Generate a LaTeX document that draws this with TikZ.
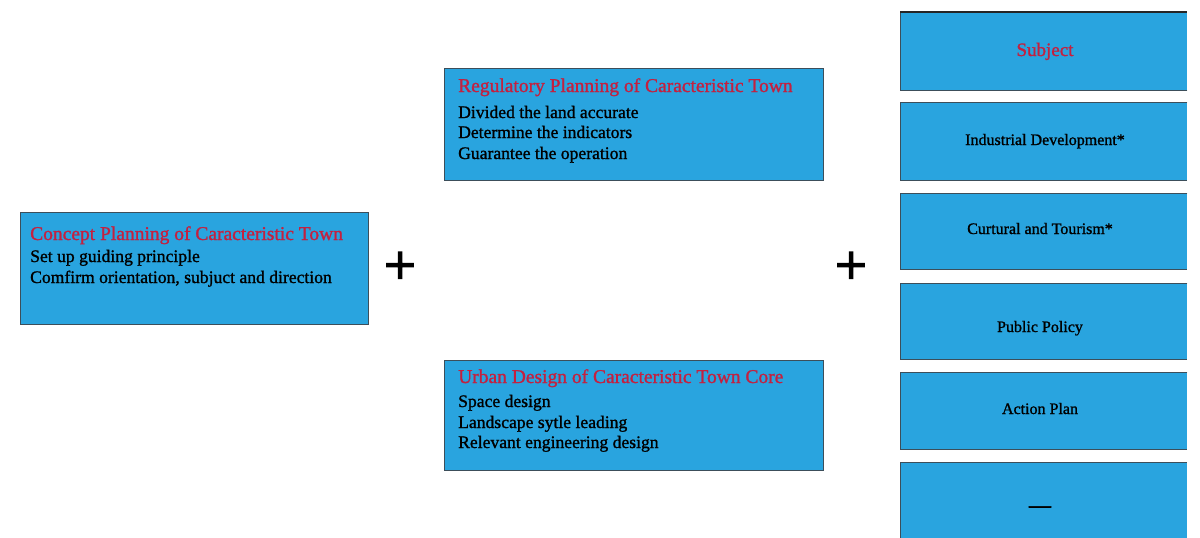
\documentclass[tikz,border=0pt]{standalone}
\usepackage{fontspec}
\setmainfont{Liberation Serif}
\newfontfamily\heavyserif{Liberation Serif}[FakeBold=1.2]
\newfontfamily\plusserif{Liberation Serif}[FakeBold=3]
\definecolor{boxblue}{HTML}{29A4DF}
\definecolor{boxedge}{HTML}{3C4E5A}
\definecolor{titlered}{HTML}{C4203F}
\begin{document}
\begin{tikzpicture}[x=1pt,y=-1pt,
  plan/.style={draw=boxedge,line width=1pt,fill=boxblue,rectangle,anchor=north west,inner sep=0pt},
  tile/.style={fill=boxblue,rectangle,anchor=north west,inner sep=0pt,minimum width=287pt},
  head/.style={anchor=base west,inner sep=0pt,text=titlered,font=\heavyserif\fontsize{19.5}{21}\selectfont},
  item/.style={anchor=base west,inner sep=0pt,text=black,font=\heavyserif\fontsize{17.6}{21}\selectfont},
  label/.style={anchor=base,inner sep=0pt,text=black,font=\heavyserif\fontsize{16}{19}\selectfont},
  plus/.style={inner sep=0pt,font=\plusserif\fontsize{56}{56}\selectfont}]
\useasboundingbox[fill=white] (0,0) rectangle (1200,538);

% concept planning
\node[plan,minimum width=348pt,minimum height=112pt] (concept) at (20,212) {};
\node[head] (concept-t) at ([shift={(10,28)}]concept.north west) {Concept Planning of Caracteristic Town};
\node[item] (concept-1) at ([shift={(10,50)}]concept.north west) {Set up guiding principle};
\node[item] (concept-2) at ([shift={(10,71)}]concept.north west) {Comfirm orientation, subjuct and direction};

% regulatory planning
\node[plan,minimum width=379pt,minimum height=112pt] (reg) at (444,68) {};
\node[head] (reg-t) at ([shift={(14,24)}]reg.north west) {Regulatory Planning of Caracteristic Town};
\node[item] (reg-1) at ([shift={(14,50)}]reg.north west) {Divided the land accurate};
\node[item] (reg-2) at ([shift={(14,70)}]reg.north west) {Determine the indicators};
\node[item] (reg-3) at ([shift={(14,91)}]reg.north west) {Guarantee the operation};

% urban design
\node[plan,minimum width=379pt,minimum height=110pt] (urban) at (444,360) {};
\node[head] (urban-t) at ([shift={(14,23)}]urban.north west) {Urban Design of Caracteristic Town Core};
\node[item] (urban-1) at ([shift={(14,47)}]urban.north west) {Space design};
\node[item] (urban-2) at ([shift={(14,68)}]urban.north west) {Landscape sytle leading};
\node[item] (urban-3) at ([shift={(14,88)}]urban.north west) {Relevant engineering design};

% plus signs
\node[plus] (plus1) at (400,268) {+};
\node[plus] (plus2) at (851,268) {+};

% right column tiles, open on the right side
\node[tile,minimum height=78pt] (subj) at (900,12) {};
\node[tile,minimum height=78pt] (ind) at (900,102) {};
\node[tile,minimum height=76pt] (cul) at (900,193) {};
\node[tile,minimum height=76pt] (pol) at (900,283) {};
\node[tile,minimum height=77pt] (act) at (900,372) {};
\node[tile,minimum height=90pt] (more) at (900,462) {};
\foreach \t in {ind,cul,pol,act}{
  \draw[boxedge,line width=1pt] (\t.north east) -- (\t.north west) -- (\t.south west) -- (\t.south east);
}
\draw[boxedge,line width=1pt] (subj.south east) -- (subj.south west) -- (subj.north west);
\draw[black!85,line width=2pt] (subj.north west) -- (subj.north east);
\draw[boxedge,line width=1pt] (more.south west) -- (more.north west) -- (more.north east);

\node[label,text=titlered,font=\heavyserif\fontsize{19}{19}\selectfont] (subj-t) at ([shift={(145,44)}]subj.north west) {Subject};
\node[label] (ind-t) at ([shift={(145,43)}]ind.north west) {Industrial Development*};
\node[label] (cul-t) at ([shift={(140,41)}]cul.north west) {Curtural and Tourism*};
\node[label] (pol-t) at ([shift={(140,49)}]pol.north west) {Public Policy};
\node[label] (act-t) at ([shift={(140,42)}]act.north west) {Action Plan};
\node[label,font=\plusserif\fontsize{22}{22}\selectfont] (more-t) at ([shift={(140,50)}]more.north west) {—};
\end{tikzpicture}
\end{document}
